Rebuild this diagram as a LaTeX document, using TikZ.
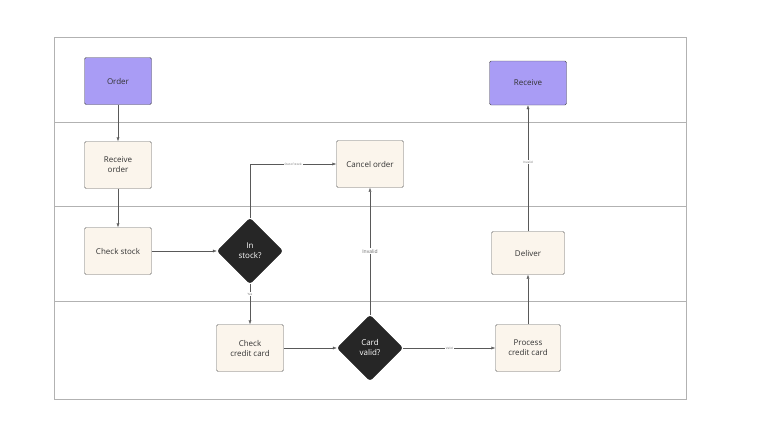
\documentclass[tikz,border=0pt]{standalone}
\usepackage{fontspec}
\setmainfont{Open Sans}
\usetikzlibrary{shapes.geometric,arrows.meta}
\definecolor{beige}{HTML}{FBF5EC}
\definecolor{lav}{HTML}{A99CF5}
\begin{document}
\begin{tikzpicture}[x=1pt,y=-1pt,
  box/.style={draw=black!60,rounded corners=1.5pt,fill=beige,minimum width=67pt,minimum height=47pt,align=center,font=\fontsize{8}{10}\selectfont,text=black!80},
  pbox/.style={box,fill=lav,draw=black!70},
  dia/.style={diamond,fill=black!85,draw=black!85,rounded corners=3pt,minimum width=66pt,minimum height=66pt,inner sep=0pt,align=center,text=white,font=\fontsize{8}{10}\selectfont},
  conn/.style={draw=black!65,-{Latex[length=4pt,width=3pt]}},
  lbl/.style={font=\fontsize{3}{4}\selectfont,fill=white,inner sep=1pt,text=black!60}]
\useasboundingbox (0,0) rectangle (768,439);
\draw[black!30] (54,37) rectangle (686,399);
\foreach \y in {122,206,301} \draw[black!30] (54,\y) -- (686,\y);
\node[pbox] (order) at (118,81) {Order};
\node[pbox,minimum width=77pt,minimum height=44pt] (recv) at (528,83) {Receive};
\node[box] (ro) at (118,165) {Receive\\order};
\node[box] (cancel) at (370,164) {Cancel order};
\node[box] (cs) at (118,251) {Check stock};
\node[dia] (instock) at (250,251) {In\\stock?};
\node[box,minimum width=73pt,minimum height=43pt] (deliver) at (528,253) {Deliver};
\node[box] (ccc) at (250,348) {Check\\credit card};
\node[dia] (valid) at (370,348) {Card\\valid?};
\node[box,minimum width=65pt] (proc) at (528,348) {Process\\credit card};
\draw[conn] (order) -- (ro);
\draw[conn] (ro) -- (cs);
\draw[conn] (cs) -- (instock);
\draw[conn] (instock.north) |- node[lbl,pos=0.75] {Out of stock} (cancel.west);
\draw[conn] (instock) -- node[lbl,pos=0.25] {Yes} (ccc);
\draw[conn] (ccc) -- (valid);
\draw[conn] (valid) -- node[lbl,font=\fontsize{5}{6}\selectfont] {Invalid} (cancel);
\draw[conn] (valid) -- node[lbl,pos=0.5] {Valid} (proc);
\draw[conn] (proc) -- (deliver);
\draw[conn] (deliver) -- node[lbl,pos=0.55] {Invalid} (recv);
\end{tikzpicture}
\end{document}
